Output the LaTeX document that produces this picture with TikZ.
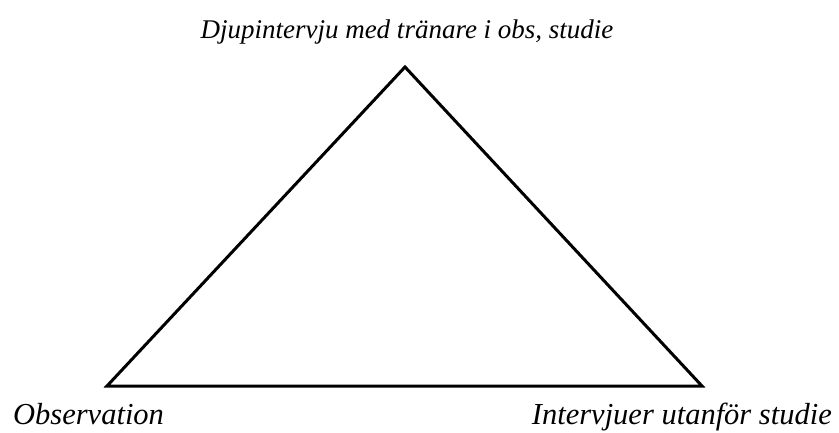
\documentclass[tikz,border=0pt]{standalone}
\usepackage{fontspec}
\setmainfont{Liberation Serif}
\begin{document}
\begin{tikzpicture}[x=1pt,y=-1pt,font=\itshape]
\useasboundingbox (0,0) rectangle (839,433);

\coordinate (apex) at (405,67);
\coordinate (bl) at (107,386);
\coordinate (br) at (702,386);
\draw[line width=3pt] (bl) -- (apex) -- (br) -- cycle;

\node[anchor=base,inner sep=0pt,font=\fontsize{27}{30}\selectfont\itshape] (djup) at (407,39) {Djupintervju med tränare i obs, studie};
\node[anchor=base west,inner sep=0pt,font=\fontsize{30.5}{33}\selectfont\itshape] (obs) at (13,424) {Observation};
\node[anchor=base east,inner sep=0pt,font=\fontsize{30.5}{33}\selectfont\itshape] (intv) at (832,424) {Intervjuer utanför studie};
\end{tikzpicture}
\end{document}
